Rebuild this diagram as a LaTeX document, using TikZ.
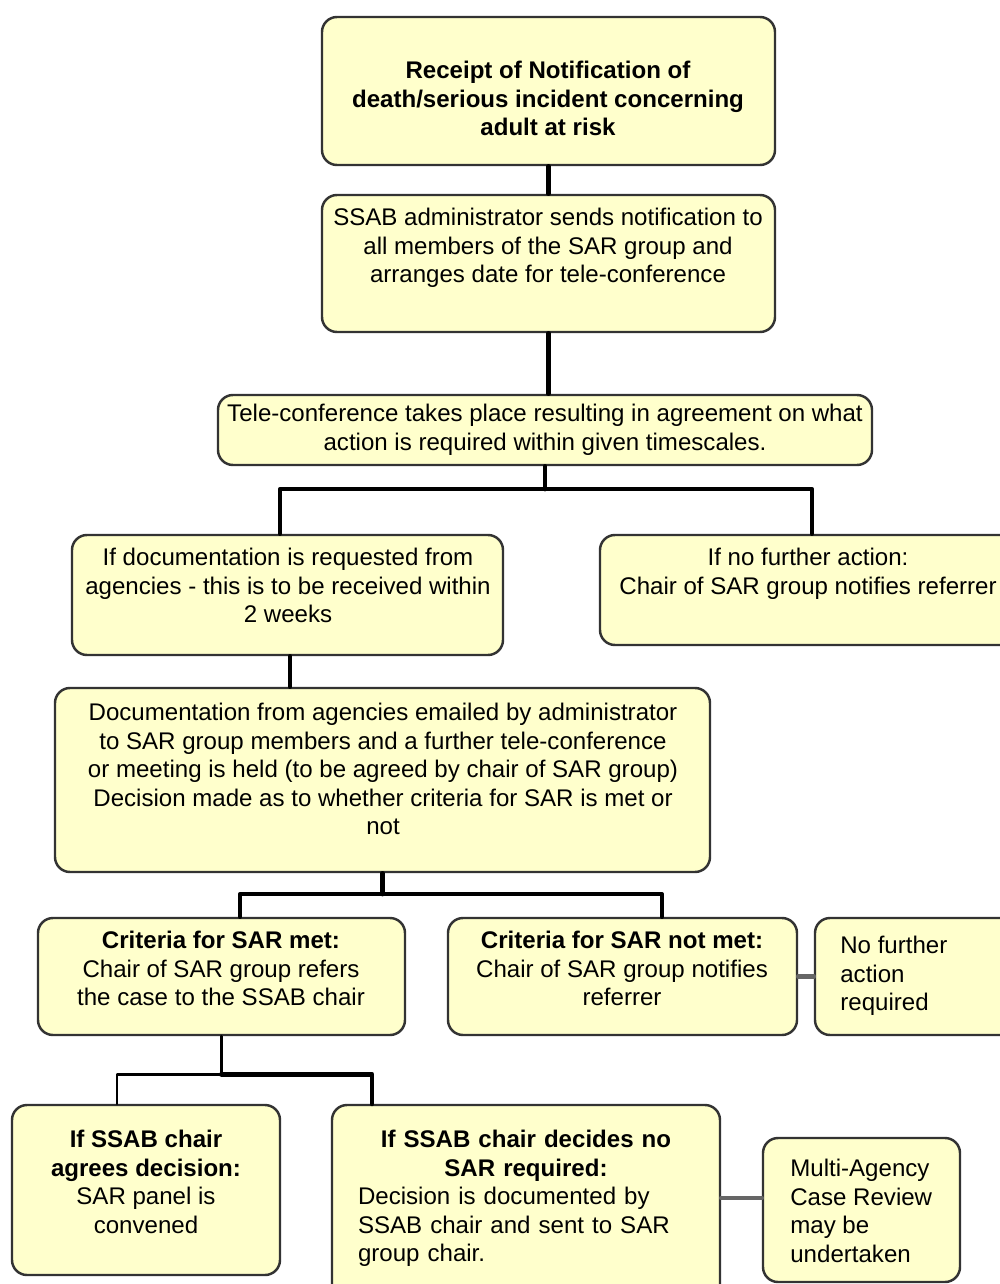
\documentclass[tikz,border=0pt]{standalone}
\usepackage{fontspec}
\setmainfont{Liberation Sans}
\usetikzlibrary{fit}
\definecolor{boxfill}{HTML}{FFFFCC}
\tikzset{
  box/.style={draw=black!80, line width=1.4pt, fill=boxfill, rounded corners=0.3cm, inner sep=0pt},
  txt/.style={inner sep=0pt, align=center, font=\fontsize{13.7}{16.2}\selectfont},
  link/.style={line width=2.5pt, black},
  sidelink/.style={line width=2.6pt, black!60}
}
\begin{document}
\begin{tikzpicture}[x=0.02cm,y=-0.02cm,line cap=round,line join=round]
  \clip (0,0) rectangle (1000,1284);
  \node[box, fit={(322,17) (775,165)}] (recv) {};
  \node[box, fit={(322,195) (775,332)}] (admin) {};
  \node[box, fit={(218,395) (872,465)}] (tele) {};
  \node[box, fit={(72,535) (503,655)}] (docreq) {};
  \node[box, fit={(600,535) (1024,645)}] (nofa) {};
  \node[box, fit={(55,688) (710,872)}] (docs) {};
  \node[box, fit={(38,918) (405,1035)}] (met) {};
  \node[box, fit={(448,918) (797,1035)}] (notmet) {};
  \node[box, fit={(815,918) (1030,1035)}] (nofur) {};
  \node[box, fit={(12,1105) (280,1275)}] (agree) {};
  \node[box, fit={(332,1105) (720,1300)}] (nosar) {};
  \node[box, fit={(763,1138) (960,1282)}] (multi) {};
  \node[txt, anchor=north] (recv-t) at (548,61)
    {\textbf{Receipt of Notification of}\\ \textbf{death/serious incident concerning}\\ \textbf{adult at risk}};
  \node[txt, anchor=north] (admin-t) at (548,208)
    {SSAB administrator sends notification to\\ all members of the SAR group and\\ arranges date for tele-conference};
  \node[txt, anchor=north] (tele-t) at (545,404)
    {Tele-conference takes place resulting in agreement on what\\ action is required within given timescales.};
  \node[txt, anchor=north] (docreq-t) at (288,548)
    {If documentation is requested from\\ agencies - this is to be received within\\ 2 weeks};
  \node[txt, anchor=north] (nofa-t) at (808,548)
    {If no further action:\\ Chair of SAR group notifies referrer};
  \node[txt, anchor=north] (docs-t) at (383,703)
    {Documentation from agencies emailed by administrator\\ to SAR group members and a further tele-conference\\ or meeting is held (to be agreed by chair of SAR group)\\ Decision made as to whether criteria for SAR is met or\\ not};
  \node[txt, anchor=north] (met-t) at (221,931)
    {\textbf{Criteria for SAR met:}\\ Chair of SAR group refers\\ the case to the SSAB chair};
  \node[txt, anchor=north] (notmet-t) at (622,931)
    {\textbf{Criteria for SAR not met:}\\ Chair of SAR group notifies\\ referrer};
  \node[txt, anchor=north west, align=left] (nofur-t) at (840,936)
    {No further\\ action\\ required};
  \node[txt, anchor=north] (agree-t) at (146,1130)
    {\textbf{If SSAB chair}\\ \textbf{agrees decision:}\\ SAR panel is\\ convened};
  \node[txt, anchor=north, text width=6.72cm, align=left] (nosar-t) at (526,1130)
    {{\centering\bfseries If SSAB chair decides no\\ SAR required:\par}Decision is documented by\\ SSAB chair and sent to SAR\\ group chair.};
  \node[txt, anchor=north west, align=left] (multi-t) at (790,1159)
    {Multi-Agency\\ Case Review\\ may be\\ undertaken};
  \draw[link] (recv.south) -- (admin.north);
  \draw[link] (admin.south) -- (admin.south |- tele.north);
  \draw[link] (tele.south) -- ++(0,23) coordinate (j1);
  \draw[link] (j1) -| (280,0 |- docreq.north);
  \draw[link] (j1) -| (812,0 |- nofa.north);
  \draw[link] (290,0 |- docreq.south) -- (290,0 |- docs.north);
  \draw[link] (docs.south) -- ++(0,21) coordinate (j2);
  \draw[link] (j2) -| (240,0 |- met.north);
  \draw[link] (j2) -| (662,0 |- notmet.north);
  \draw[sidelink] (notmet.east) -- (nofur.west);
  \draw[link, line width=1.7pt] (met.south) -- ++(0,38) coordinate (j3);
  \draw[link, line width=1.7pt] (j3) -| (117,0 |- agree.north);
  \draw[link, line width=2.8pt] (j3) -| (372,0 |- nosar.north);
  \draw[sidelink] (nosar.east |- 0,1198) -- (multi.west |- 0,1198);
\end{tikzpicture}
\end{document}
